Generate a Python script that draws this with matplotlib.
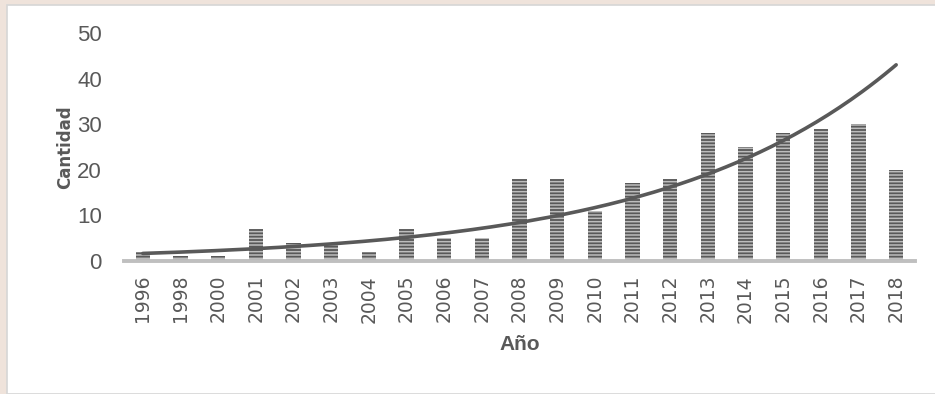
import numpy as np
import matplotlib
matplotlib.use("Agg")
import matplotlib.pyplot as plt
from matplotlib.patches import Rectangle

# datos
anios = ["1996", "1998", "2000", "2001", "2002", "2003", "2004", "2005", "2006", "2007",
         "2008", "2009", "2010", "2011", "2012", "2013", "2014", "2015", "2016", "2017", "2018"]
cantidad = [2, 1, 1, 7, 4, 4, 2, 7, 5, 5, 18, 18, 11, 17, 18, 28, 25, 28, 29, 30, 20]

gris = "#595959"
plt.rcParams["hatch.linewidth"] = 1.1

fig = plt.figure(figsize=(9.35, 3.94), dpi=100)
fig.patch.set_facecolor("#efe3db")
# panel blanco (debajo de los ejes)
fig.patches.append(Rectangle((7 / 935, 0), 1, 1 - 5 / 394, transform=fig.transFigure,
                             facecolor="white", edgecolor="#d6d6d6", linewidth=1.2, zorder=-1))

ax = fig.add_axes([124 / 935, 133 / 394, 791 / 935, 228 / 394])
ax.set_facecolor("none")

x = np.arange(len(anios))
ax.bar(x, cantidad, width=0.38, color=gris, edgecolor="#bdbdbd", linewidth=0,
       hatch="-----", zorder=2)

# linea de tendencia exponencial (como Excel)
xi = np.arange(1, len(anios) + 1)
b, a = np.polyfit(xi, np.log(cantidad), 1)
xs = np.linspace(1, len(anios), 200)
ax.plot(xs - 1, np.exp(a + b * xs), color=gris, linewidth=2.6, solid_capstyle="round", zorder=3)

ax.set_xlim(-0.5, len(anios) - 0.5)
ax.set_ylim(0, 50)
ax.set_yticks([0, 10, 20, 30, 40, 50])
ax.set_xticks(x)
ax.set_xticklabels(anios, rotation=90, fontsize=13.5, color=gris, family="DejaVu Sans")
for lbl in ax.get_yticklabels():
    lbl.set_fontfamily("Liberation Sans")
    lbl.set_fontsize(16)
    lbl.set_color(gris)
ax.tick_params(axis="y", length=0, pad=16)
ax.tick_params(axis="x", length=0, pad=10)

for s in ["top", "right", "left"]:
    ax.spines[s].set_visible(False)
ax.spines["bottom"].set_color("#bfbfbf")
ax.spines["bottom"].set_linewidth(2.8)

ax.set_ylabel("Cantidad", fontsize=12, fontweight="bold", color=gris, family="DejaVu Sans",
              labelpad=2)
ax.set_xlabel("Año", fontsize=15, fontweight="bold", color=gris, family="Liberation Sans",
              labelpad=9)

fig.savefig("out.png", dpi=100, facecolor=fig.get_facecolor())
